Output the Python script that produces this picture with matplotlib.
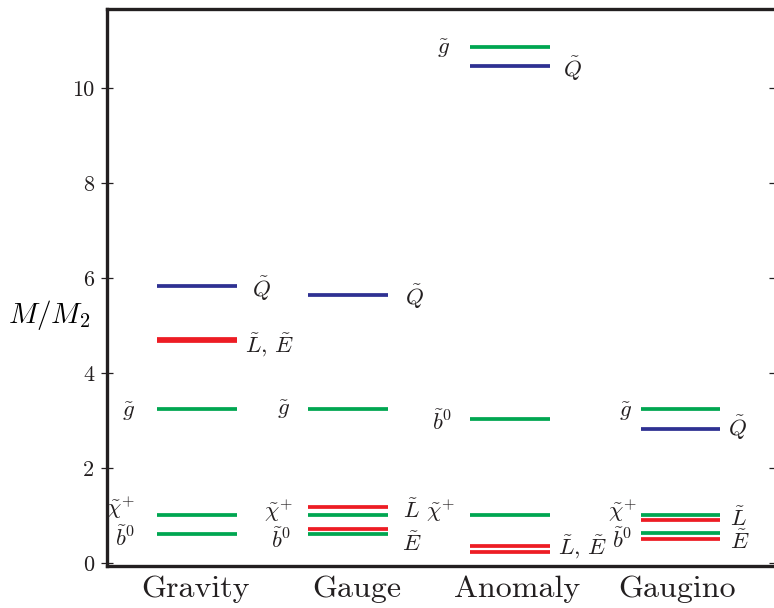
import numpy as np
import matplotlib
matplotlib.use('Agg')
import matplotlib.pyplot as plt

plt.rcParams['font.family'] = 'serif'
plt.rcParams['font.serif'] = ['cmr10']
plt.rcParams['mathtext.fontset'] = 'cm'
plt.rcParams['axes.formatter.use_mathtext'] = True

schemes = ['Gravity', 'Gauge', 'Anomaly', 'Gaugino']

# mass levels M/M2 per scheme
gluino = [3.24, 3.24, 10.86, 3.24]
squark = [5.83, 5.65, 10.46, 2.83]
slepton_L = [4.72, 1.19, 0.355, 0.91]
slepton_E = [4.665, 0.71, 0.235, 0.51]
chargino = [1.02, 1.02, 1.02, 1.02]
bino = [0.62, 0.62, 3.03, 0.63]

yticks = [0, 2, 4, 6, 8, 10]

green = '#00a651'
red = '#ed1c24'
blue = '#2e3192'
dark = '#231f20'

# layout (x in units of ~155 px)
centers = [0.581, 1.555, 2.597, 3.70]
label_pos = [0.574, 1.61, 2.645, 3.68]
hw = 0.258

fig = plt.figure(figsize=(7.74, 6.08), dpi=100)
ax = fig.add_axes([107 / 774, 42 / 608, 668 / 774, 557 / 608])

series = [(gluino, green), (chargino, green), (bino, green),
          (squark, blue), (slepton_L, red), (slepton_E, red)]
for vals, col in series:
    for c, v in zip(centers, vals):
        ax.plot([c - hw, c + hw], [v, v], color=col, lw=2.7, solid_capstyle='butt')

# particle labels: (x, y, text, ha)
labels = [
    (0.181, 3.18, r'$\tilde{g}$', 'right'),
    (0.181, 1.16, r'$\tilde{\chi}^{+}$', 'right'),
    (0.181, 0.53, r'$\tilde{b}^{0}$', 'right'),
    (0.935, 5.77, r'$\tilde{Q}$', 'left'),
    (0.89, 4.59, r'$\tilde{L},\,\tilde{E}$', 'left'),
    (1.18, 3.22, r'$\tilde{g}$', 'right'),
    (1.20, 1.10, r'$\tilde{\chi}^{+}$', 'right'),
    (1.19, 0.50, r'$\tilde{b}^{0}$', 'right'),
    (1.92, 5.60, r'$\tilde{Q}$', 'left'),
    (1.91, 1.12, r'$\tilde{L}$', 'left'),
    (1.90, 0.42, r'$\tilde{E}$', 'left'),
    (2.21, 10.82, r'$\tilde{g}$', 'right'),
    (2.94, 10.40, r'$\tilde{Q}$', 'left'),
    (2.23, 2.97, r'$\tilde{b}^{0}$', 'right'),
    (2.245, 1.10, r'$\tilde{\chi}^{+}$', 'right'),
    (2.91, 0.34, r'$\tilde{L},\,\tilde{E}$', 'left'),
    (3.39, 3.18, r'$\tilde{g}$', 'right'),
    (4.006, 2.86, r'$\tilde{Q}$', 'left'),
    (3.42, 1.10, r'$\tilde{\chi}^{+}$', 'right'),
    (3.39, 0.50, r'$\tilde{b}^{0}$', 'right'),
    (4.02, 0.95, r'$\tilde{L}$', 'left'),
    (4.02, 0.46, r'$\tilde{E}$', 'left'),
]
for x, y, t, ha in labels:
    ax.text(x, y, t, ha=ha, va='center', fontsize=16.5, color=dark)

ax.set_xlim(0, 668 / 155)
ax.set_ylim(-0.06, 11.66)

ax.set_xticks(label_pos)
ax.set_xticklabels(schemes, fontsize=23, color=dark)
ax.tick_params(axis='x', length=0, pad=7)

ax.set_yticks(yticks)
ax.set_yticklabels([str(t) for t in yticks], fontsize=16, color=dark)
ax.tick_params(axis='y', left=True, right=True, direction='inout', length=8.5,
               width=0.9, color=dark, pad=5)

for s in ['left', 'top', 'bottom']:
    ax.spines[s].set_linewidth(2.4)
    ax.spines[s].set_color(dark)
ax.spines['right'].set_visible(False)

ax.set_ylabel(r'$M/M_2$', fontsize=21, rotation=0, ha='center', va='center')
ax.yaxis.set_label_coords(-0.087, (5.22 + 0.06) / 11.72)

fig.savefig('out.png', dpi=100)
